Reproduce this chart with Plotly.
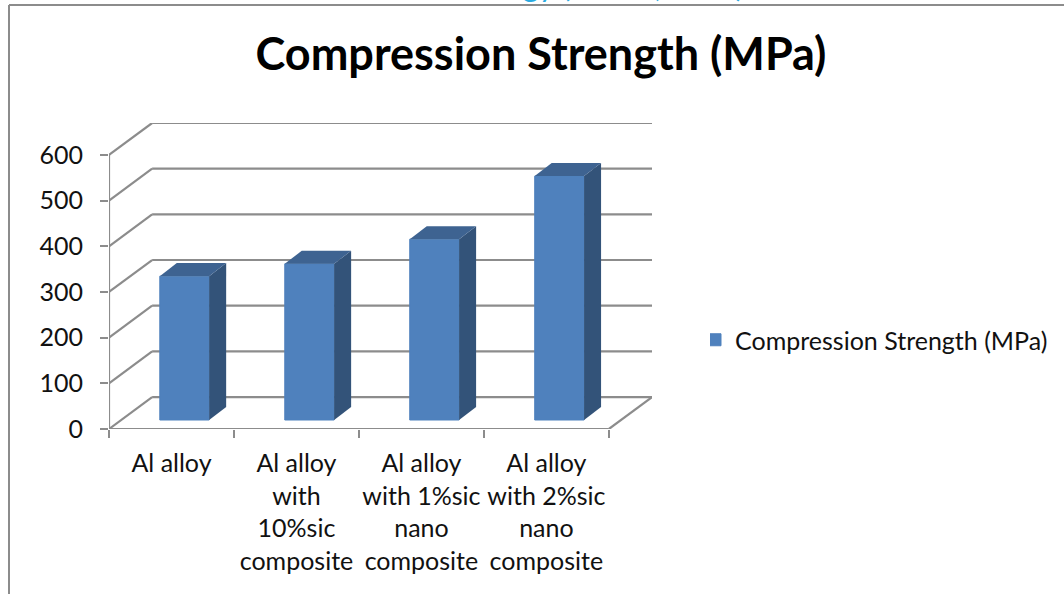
import plotly.graph_objects as go

categories = ["Al alloy", "Al alloy<br>with<br>10%sic<br>composite", "Al alloy<br>with 1%sic<br>nano<br>composite", "Al alloy<br>with 2%sic<br>nano<br>composite"]
series_name = "Compression Strength (MPa)"
values = [315, 342, 396, 534]
y_ticks = [0, 100, 200, 300, 400, 500, 600]
title = "Compression Strength (MPa)"
header_fragment = "Technology (IJMET, ISSN)"

FONT = "Lato"
GRID = "#8c8c8c"
FRONT = "#4f81bd"
SIDE = "#335379"
TOP = "#3e6391"

# oblique projection, in axis units
wall_dx, wall_dy = 0.345, 70.0
bar_dx, bar_dy = 0.136, 28.5
bar_shift, bar_floor, bar_w = 0.104, 19.7, 0.395
x_lo, x_hi = -0.5, 3.5

xs = list(range(len(values)))
fig = go.Figure()
fig.add_trace(go.Bar(x=[i + bar_shift for i in xs], y=values, base=[bar_floor] * len(values), width=bar_w,
                     marker=dict(color=FRONT, line=dict(width=1, color=FRONT)), name=series_name, showlegend=True))
for i, v in zip(xs, values):
    l = i + bar_shift - bar_w / 2
    r = l + bar_w
    t = bar_floor + v
    fig.add_trace(go.Scatter(x=[r, r + bar_dx, r + bar_dx, r, r], y=[bar_floor, bar_floor + bar_dy, t + bar_dy, t, bar_floor],
                             mode="lines", line=dict(width=0), fill="toself", fillcolor=SIDE, showlegend=False, hoverinfo="skip"))
    fig.add_trace(go.Scatter(x=[l, r, r + bar_dx, l + bar_dx, l], y=[t, t, t + bar_dy, t + bar_dy, t],
                             mode="lines", line=dict(width=0), fill="toself", fillcolor=TOP, showlegend=False, hoverinfo="skip"))

def seg(xv, yv, w=2.2):
    for k in range(len(xv) - 1):
        fig.add_shape(type="line", xref="x", yref="y", layer="below", x0=xv[k], y0=yv[k], x1=xv[k + 1], y1=yv[k + 1],
                      line=dict(color=GRID, width=w))

for v in y_ticks:
    seg([x_lo, x_lo + wall_dx, x_hi + wall_dx], [v, v + wall_dy, v + wall_dy])
seg([x_lo, x_lo], [0, max(y_ticks)])
seg([x_lo, x_hi, x_hi + wall_dx], [0, 0, wall_dy])

# chart frame, in page pixels converted to plot fractions
PX = lambda p: (p - 109) / 543
PY = lambda p: (429 - p) / 306
fig.add_shape(type="line", xref="paper", yref="paper", x0=PX(9), x1=PX(9), y0=PY(594), y1=PY(5), line=dict(color=GRID, width=2))
fig.add_shape(type="line", xref="paper", yref="paper", x0=PX(9), x1=PX(1064), y0=PY(5), y1=PY(5), line=dict(color=GRID, width=2))

fig.update_layout(
    width=1064, height=594, margin=dict(l=109, r=412, t=123, b=165, autoexpand=False),
    paper_bgcolor="white", plot_bgcolor="white",
    font=dict(family=FONT, size=25, color="#111111"),
    title=dict(text="<b>" + title + "</b>", x=541 / 1064, xanchor="center", y=1 - 54 / 594, yanchor="middle",
               font=dict(family=FONT, size=45, color="black")),
    xaxis=dict(range=[x_lo, x_hi + wall_dx], tickmode="array", tickvals=xs, ticktext=categories, ticklen=0,
               showgrid=False, zeroline=False, showline=False, automargin=False, ticklabelstandoff=17,
               minor=dict(tickmode="linear", tick0=-0.5, dtick=1, ticks="outside", ticklen=8, tickcolor=GRID, tickwidth=2, showgrid=False)),
    yaxis=dict(range=[0, 670], tickmode="array", tickvals=y_ticks, ticks="outside", ticklen=8, tickcolor=GRID, tickwidth=2,
               showgrid=False, zeroline=False, showline=False, automargin=False, ticklabelstandoff=12),
    legend=dict(x=PX(710), y=PY(340), xanchor="left", yanchor="middle", indentation=-15,
                font=dict(family=FONT, size=25), bgcolor="rgba(0,0,0,0)"),
    annotations=[dict(text=header_fragment, xref="paper", yref="paper", x=PX(399), y=PY(5), xanchor="left", yanchor="bottom",
                      showarrow=False, borderpad=0, font=dict(color="#29abe2", size=31))],
    showlegend=True,
)
fig.write_html("out.html", config={"displayModeBar": False}, post_script="document.body.style.margin='0';")
